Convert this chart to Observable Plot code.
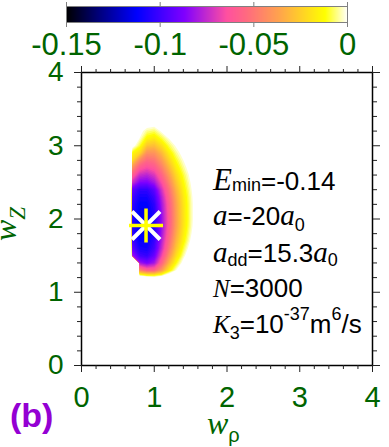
<!DOCTYPE html>
<html><head><meta charset="utf-8">
<script src="https://cdn.jsdelivr.net/npm/d3@7"></script>
<script src="https://cdn.jsdelivr.net/npm/@observablehq/plot@0.6"></script>
<style>
html,body{margin:0;padding:0;background:#fff;}
#chart{position:relative;width:389px;height:447px;overflow:hidden;background:#fff;}
#chart svg{position:absolute;left:0;top:0;}
</style></head><body><div id="chart"></div>
<script>
// ---- data ----
const rhoGrid = [0.6, 0.7, 0.8, 0.9, 1.0, 1.1, 1.2, 1.3, 1.4, 1.5, 1.6];
const wzGrid = [3.4, 3.3, 3.2, 3.1, 3.0, 2.9, 2.8, 2.7, 2.6, 2.5, 2.4, 2.3, 2.2, 2.1, 2.0, 1.9, 1.8, 1.7, 1.6, 1.5, 1.4, 1.3, 1.2, 1.1];
// energy per row (top row wz=3.4 first); NaN = no value (outside the computed domain)
const energyRows = [
  [NaN, 0.06, 0.045, 0.035, 0.032, 0.036, 0.045, 0.055, 0.065, 0.075, 0.085],
  [NaN, 0.03, 0.012, 0.003, 0.002, 0.008, 0.018, 0.028, 0.038, 0.048, 0.058],
  [NaN, 0.0066, 0.0011, -0.0065, -0.0087, -0.0010, 0.004, 0.0083, 0.012, 0.0156, 0.019],
  [NaN, 0.0059, -0.0027, -0.016, -0.0191, -0.011, -0.0023, 0.0034, 0.0091, 0.0141, 0.0184],
  [NaN, 0.0022, -0.0107, -0.029, -0.0308, -0.0219, -0.0098, -0.0014, 0.0055, 0.0125, 0.019],
  [NaN, -0.015, -0.0234, -0.0436, -0.0427, -0.0323, -0.018, -0.0067, 0.0016, 0.0096, 0.0176],
  [NaN, -0.0238, -0.0455, -0.0557, -0.0526, -0.0412, -0.0259, -0.0125, -0.0026, 0.006, 0.0147],
  [NaN, -0.0432, -0.0616, -0.0668, -0.0624, -0.0495, -0.0334, -0.018, -0.0065, 0.0028, 0.012],
  [NaN, -0.06, -0.0755, -0.0782, -0.0726, -0.0581, -0.0406, -0.0234, -0.0107, 0.0, 0.010],
  [NaN, -0.0751, -0.0878, -0.0889, -0.0821, -0.0663, -0.0475, -0.0285, -0.014, -0.0022, 0.0087],
  [NaN, -0.094, -0.104, -0.104, -0.095, -0.0743, -0.0539, -0.0332, -0.0169, -0.0041, 0.0077],
  [NaN, -0.100, -0.110, -0.110, -0.101, -0.0794, -0.0582, -0.0365, -0.0192, -0.0056, 0.0068],
  [NaN, -0.104, -0.114, -0.114, -0.105, -0.0826, -0.061, -0.0384, -0.0205, -0.0063, 0.0063],
  [NaN, -0.106, -0.116, -0.116, -0.107, -0.0841, -0.0622, -0.0391, -0.0209, -0.0064, 0.0064],
  [NaN, -0.106, -0.116, -0.116, -0.107, -0.0848, -0.0627, -0.0394, -0.0211, -0.0065, 0.0065],
  [NaN, -0.106, -0.116, -0.116, -0.107, -0.0846, -0.062, -0.0389, -0.0204, -0.0059, 0.0072],
  [NaN, -0.105, -0.115, -0.115, -0.106, -0.0827, -0.0597, -0.0365, -0.0184, -0.004, 0.0093],
  [NaN, -0.100, -0.113, -0.113, -0.103, -0.0796, -0.0561, -0.033, -0.0158, -0.0013, 0.0121],
  [NaN, -0.094, -0.109, -0.110, -0.100, -0.0764, -0.0516, -0.0286, -0.0111, 0.0028, 0.0167],
  [NaN, -0.082, -0.100, -0.103, -0.093, -0.0691, -0.0436, -0.022, -0.0056, 0.0085, 0.0227],
  [NaN, NaN, -0.082, -0.089, -0.082, -0.0584, -0.0331, -0.0132, 0.0014, 0.0154, 0.0295],
  [NaN, NaN, -0.0466, -0.0584, -0.0577, -0.041, -0.0183, -0.0026, 0.0104, 0.0233, 0.0354],
  [NaN, NaN, 0.012, 0.007, 0.005, 0.008, 0.016, 0.028, 0.04, 0.052, 0.065],
  [NaN, NaN, 0.06, 0.05, 0.045, 0.048, 0.055, 0.065, 0.075, 0.085, 0.095]
];
const starRho = [0.887];
const starWz = [1.911];
const axisTicks = [0, 1, 2, 3, 4];
const axisTickLabels = ["0", "1", "2", "3", "4"];
const minorTicks = [0.2, 0.4, 0.6, 0.8, 1.2, 1.4, 1.6, 1.8, 2.2, 2.4, 2.6, 2.8, 3.2, 3.4, 3.6, 3.8];
const cbTicks = [-0.15, -0.1, -0.05, 0];
const cbTickLabels = ["-0.15", "-0.1", "-0.05", "0"];
const paletteStops = [0, 0.12, 0.25, 0.42, 0.57, 0.64, 0.75, 0.92, 1];
const paletteColors = ["#000000", "#000080", "#0000ff", "#8000ff", "#ff50a0", "#ff6a80", "#ffa050", "#ffff00", "#ffffff"];
const annotationLines = [
  [["E", "varL"], ["min", "subE"], ["=-0.14", "num"]],
  [["a", "var"], ["=-20", "num"], ["a", "var"], ["0", "sub"]],
  [["a", "var"], ["dd", "sub2"], ["=15.3", "num"], ["a", "var"], ["0", "sub2"]],
  [["N", "varS"], ["=3000", "num"]],
  [["K", "varS"], ["3", "sub"], ["=10", "num"], ["-37", "sup"], ["m", "num"], ["6", "sup"], ["/s", "num"]]
];
const xLabel = [["w", "axVar"], ["ρ", "axSub"]];
const yLabel = [["w", "axVar"], ["Z", "axSubZ"]];
const panelLabel = "(b)";

// ---- styles ----
const green = "#006400";
const SANS = "'Liberation Sans', Arial, Helvetica, sans-serif";
const SERIF = "'Liberation Serif', 'Times New Roman', serif";
const roles = {
  varL: {font: SERIF, italic: true, size: 31, shift: 0},
  var: {font: SERIF, italic: true, size: 29, shift: 0},
  varS: {font: SERIF, italic: true, size: 25, shift: 0},
  num: {font: SANS, size: 26, shift: 0},
  subE: {font: SANS, size: 18, shift: 1},
  sub: {font: SANS, size: 18, shift: 6},
  sub2: {font: SANS, size: 18, shift: 4},
  sup: {font: SANS, size: 18, shift: -13},
  axVar: {font: SERIF, italic: true, size: 32, shift: 0},
  axSub: {font: SANS, size: 20, shift: 8},
  axSubZ: {font: SERIF, italic: true, size: 23, shift: 9}
};

const cbMin = d3.min(cbTicks), cbMax = d3.max(cbTicks);
const colorStops = paletteStops.map(f => cbMin + f * (cbMax - cbMin));
// colour bar scale (energy E)
const colorE = {type: "linear", domain: colorStops, range: paletteColors, clamp: true};
// map scale uses the depth -E so that the nested contour regions fill the well from outside in
const colorDepth = {type: "linear", domain: colorStops.map(v => -v), range: paletteColors, clamp: true};
const thresholds = d3.range(0, -cbMin + 1e-9, 0.0025);

const dRho = rhoGrid[1] - rhoGrid[0];
const dWz = wzGrid[0] - wzGrid[1];
const WALL = -1; // depth outside the computed domain (sharp cut)
const depthValues = energyRows.slice().reverse().flat().map(v => Number.isNaN(v) ? WALL : -v);
const star = starRho.map((r, i) => ({rho: r, wz: starWz[i]}));

const symTimes = {draw(ctx) { const r = 14; ctx.moveTo(-r, -r); ctx.lineTo(r, r); ctx.moveTo(-r, r); ctx.lineTo(r, -r); }};
const symPlus = {draw(ctx) { const r = 17; ctx.moveTo(-r, 0); ctx.lineTo(r, 0); ctx.moveTo(0, -r); ctx.lineTo(0, r); }};

const tickColor = "#222";
const fmt = (ticks, labels) => d => labels[ticks.findIndex(t => Math.abs(t - d) < 1e-9)];

const main = Plot.plot({
  width: 389, height: 447,
  marginLeft: 81, marginRight: 17, marginTop: 72, marginBottom: 82,
  style: {background: "transparent", fontFamily: SANS, overflow: "visible"},
  x: {domain: [0, 4]},
  y: {domain: [0, 4]},
  color: colorDepth,
  marks: [
    Plot.contour(depthValues, {
      width: rhoGrid.length, height: wzGrid.length,
      x1: d3.min(rhoGrid) - dRho / 2, x2: d3.max(rhoGrid) + dRho / 2,
      y1: d3.min(wzGrid) - dWz / 2, y2: d3.max(wzGrid) + dWz / 2,
      fill: Plot.identity, thresholds, stroke: "none"
    }),
    Plot.frame({stroke: "black", strokeWidth: 1.5}),
    Plot.axisX({anchor: "bottom", ticks: axisTicks, tickSize: 7, fill: "none", stroke: tickColor, label: null}),
    Plot.axisX({anchor: "bottom", ticks: minorTicks, tickSize: 4, fill: "none", stroke: tickColor, label: null}),
    Plot.axisX({anchor: "top", ticks: axisTicks, tickSize: 7, fill: "none", stroke: tickColor, label: null}),
    Plot.axisX({anchor: "top", ticks: minorTicks, tickSize: 4, fill: "none", stroke: tickColor, label: null}),
    Plot.axisY({anchor: "left", ticks: axisTicks, tickSize: 7, fill: "none", stroke: tickColor, label: null}),
    Plot.axisY({anchor: "left", ticks: minorTicks, tickSize: 4, fill: "none", stroke: tickColor, label: null}),
    Plot.axisY({anchor: "right", ticks: axisTicks, tickSize: 7, fill: "none", stroke: tickColor, label: null}),
    Plot.axisY({anchor: "right", ticks: minorTicks, tickSize: 4, fill: "none", stroke: tickColor, label: null}),
    Plot.axisX({anchor: "bottom", ticks: axisTicks, tickSize: 0, tickPadding: 21, tickFormat: fmt(axisTicks, axisTickLabels), fontSize: 29, fill: green, label: null}),
    Plot.axisY({anchor: "left", ticks: axisTicks, tickSize: 0, tickPadding: 18, tickFormat: fmt(axisTicks, axisTickLabels), fontSize: 28, fill: green, label: null}),
    Plot.dot(star, {x: "rho", y: "wz", symbol: symTimes, stroke: "white", strokeWidth: 4, fill: "none"}),
    Plot.dot(star, {x: "rho", y: "wz", symbol: symPlus, stroke: "#ffff00", strokeWidth: 3.5, fill: "none"})
  ]
});

const colorbar = Plot.plot({
  width: 389, height: 62,
  marginLeft: 66, marginRight: 42, marginTop: 6, marginBottom: 40,
  style: {background: "transparent", fontFamily: SANS, overflow: "visible"},
  x: {domain: [cbMin, cbMax]},
  y: {domain: [0, 1], axis: null},
  color: colorE,
  marks: [
    Plot.raster({x1: cbMin, x2: cbMax, y1: 0, y2: 1, fill: (x, y) => x}),
    Plot.frame({stroke: "#808080"}),
    Plot.axisX({anchor: "top", ticks: cbTicks, tickSize: 5, fill: "none", stroke: "#808080", label: null}),
    Plot.axisX({anchor: "bottom", ticks: cbTicks, tickSize: 5, fill: "none", stroke: "#808080", label: null}),
    Plot.axisX({anchor: "bottom", ticks: cbTicks, tickSize: 0, tickPadding: 10, tickFormat: fmt(cbTicks, cbTickLabels), fontSize: 31, fill: green, label: null})
  ]
});

const chart = document.getElementById("chart");
chart.appendChild(main);
chart.appendChild(colorbar);

// ---- rich text helpers ----
function richText(parent, x, y, parts, color, transform) {
  const t = parent.append("text").attr("x", x).attr("y", y).attr("fill", color).attr("text-anchor", "start");
  if (transform) t.attr("transform", transform);
  let cur = 0;
  for (const [txt, role] of parts) {
    const r = roles[role];
    t.append("tspan")
      .attr("font-family", r.font)
      .attr("font-size", r.size)
      .attr("font-style", r.italic ? "italic" : "normal")
      .attr("dy", r.shift - cur)
      .text(txt);
    cur = r.shift;
  }
  return t;
}
const svg = d3.select(main);
const g = svg.append("g").attr("text-anchor", "start");
const baselines = [190, 225, 262, 297, 333];
annotationLines.forEach((parts, i) => richText(g, 213, baselines[i], parts, "#000"));
richText(g, 207, 434, xLabel, green);
richText(g, 0, 0, yLabel, green, "translate(16,241) rotate(-90)");
g.append("text").attr("x", 10).attr("y", 427).attr("text-anchor", "start")
  .attr("font-family", SANS).attr("font-weight", "bold").attr("font-size", 34)
  .attr("fill", "#9400d3").text(panelLabel);
</script></body></html>
